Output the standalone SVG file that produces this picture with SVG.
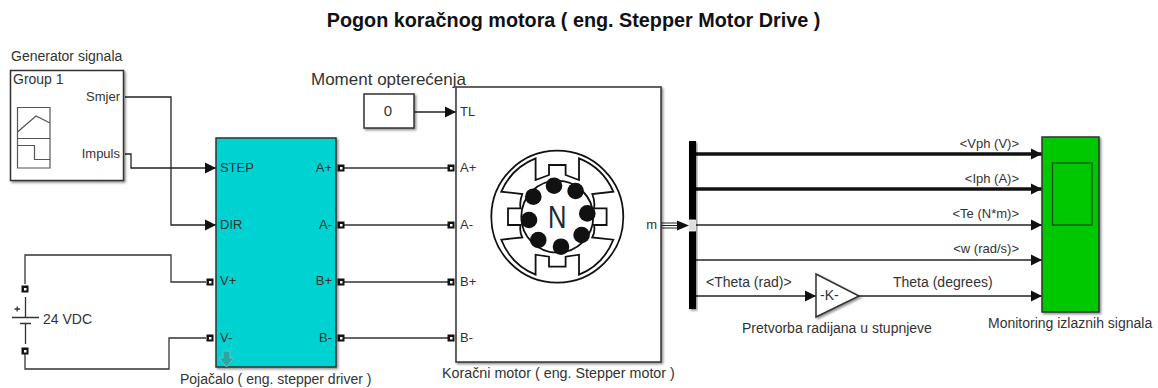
<svg xmlns="http://www.w3.org/2000/svg" width="1158" height="388" viewBox="0 0 1158 388">
<style>
text{font-family:"Liberation Sans",Arial,sans-serif;font-size:14px;fill:#333}
.s{font-size:13px}
.b{stroke:#333;stroke-width:1.5;filter:url(#sh)}
.w{fill:none;stroke:#333;stroke-width:1.3}
.a{fill:none;stroke:#222;stroke-width:1.3;marker-end:url(#arr)}
.t{fill:none;stroke:#111;stroke-width:3.5;marker-end:url(#arrT)}
.g{fill:none;stroke:#555;stroke-width:1.2}
.m{fill:none;stroke:#111;stroke-width:1.8}
.e{text-anchor:end}
.c{text-anchor:middle}
</style>
<defs>
<filter id="sh" x="-10%" y="-10%" width="125%" height="125%"><feDropShadow dx="1.5" dy="1.5" stdDeviation="1.2" flood-color="#000" flood-opacity=".45"/></filter>
<marker id="arr" markerUnits="userSpaceOnUse" markerWidth="13" markerHeight="12" refX="11" refY="6" orient="auto"><path d="M0 .5L11 6L0 11.500z" fill="#111"/></marker>
<marker id="arrT" markerUnits="userSpaceOnUse" markerWidth="13" markerHeight="12" refX="11" refY="6" orient="auto"><path d="M0 .5L11 6L0 11.500z" fill="#111"/></marker>
<g id="port"><rect x="-3.500" y="-3.500" width="7" height="7" fill="#111"/><rect x="-1" y="-1" width="2.500" height="2.500" fill="#fff"/></g>
</defs>
<text x="573.500" y="27" class="c" style="font-size:19.800px;font-weight:bold;fill:#111">Pogon koračnog motora ( eng. Stepper Motor Drive )</text>

<g id="connectors">
<path class="a" d="M125 97H171V225H216"/>
<path class="a" d="M125 154H131V168H216"/>
<path class="w" d="M25 284V255H171V282H206"/>
<path class="w" d="M25 351V369H169V338H206"/>
<path class="a" d="M414 112H456"/>
<path class="w" d="M343 168H448M343 225H448M343 282H448M343 338H448"/>
<path fill="none" stroke="#222" stroke-width="1" d="M661 223H677M661 225.500H677M661 228H677"/>
<path d="M689 225.500L677 220.500V230.500z" fill="#111"/>
<path class="t" d="M696 154H1042"/>
<path class="t" d="M696 189H1042"/>
<path class="a" d="M696 225H1042"/>
<path class="a" d="M696 260H1042"/>
<path class="a" d="M696 296H816"/>
<path class="a" d="M859 296H1042"/>
</g>

<g id="generator">
<text x="11" y="61">Generator signala</text>
<rect class="b" x="10.500" y="70.500" width="113" height="110" fill="#fff"/>
<text x="13" y="84">Group 1</text>
<text x="120" y="101" class="e s">Smjer</text>
<text x="120" y="158" class="e s">Impuls</text>
<path class="g" d="M17.500 107.500H50V168H17.500zM17.500 138.500H50M17.500 132L36 116L50 123M17.500 145.500H34.500V159.500H50"/>
</g>

<g id="driver">
<rect class="b" x="216" y="138" width="120" height="229" fill="#00d2d2"/>
<text class="s" x="220" y="172">STEP</text><text class="s" x="220" y="229">DIR</text><text class="s" x="220" y="285">V+</text><text class="s" x="220" y="342">V-</text>
<text x="332" y="172" class="e s">A+</text><text x="332" y="229" class="e s">A-</text><text x="332" y="285" class="e s">B+</text><text x="332" y="342" class="e s">B-</text>
<path d="M223 351H230V358H234L226.500 367L219 358H223z" fill="#2ba6a6" stroke="#5cc" stroke-width="1"/>
<use href="#port" x="210" y="282"/><use href="#port" x="210" y="338"/>
<use href="#port" x="341" y="168"/><use href="#port" x="341" y="225"/><use href="#port" x="341" y="282"/><use href="#port" x="341" y="338"/>
<text x="180" y="384">Pojačalo ( eng. stepper driver )</text>
</g>

<g id="battery">
<use href="#port" x="25" y="289"/><use href="#port" x="25" y="351"/>
<path fill="none" stroke="#333" stroke-width="1.3" d="M25.500 297V317M12 317.500H39M20 323.500H31M25.500 324V344M14.500 309H20M17.200 306.500V311.500"/>
<text x="43" y="324">24 VDC</text>
</g>

<g id="constant">
<text x="311" y="85" style="font-size:17px">Moment opterećenja</text>
<rect class="b" x="364" y="94" width="50" height="34" fill="#fff"/>
<text x="388" y="116" class="c" style="font-size:15px">0</text>
</g>

<g id="motor">
<rect class="b" x="456" y="87" width="205" height="275" fill="#fff"/>
<text class="s" x="460" y="116">TL</text><text class="s" x="460" y="172">A+</text><text class="s" x="460" y="229">A-</text><text class="s" x="460" y="286">B+</text><text class="s" x="460" y="342">B-</text>
<text x="657" y="229" class="e s">m</text>
<use href="#port" x="451" y="168"/><use href="#port" x="451" y="225"/><use href="#port" x="451" y="282"/><use href="#port" x="451" y="338"/>
<g transform="translate(557.300 216.700)">
<circle class="m" r="66"/>
<path class="m" d="M-21.700-58.300V-36.700L-8.300-41.700V-51.700H8.300V-41.700L21.700-36.700V-58.300A62 62 0 0 1 56-25L35-22.700Q38-15 36.700-8.300H49.300V8.300H36.700Q38 15 35 20.700L56 23A62 62 0 0 1 21.700 58V38L8.300 40V50H-8.300V40L-21.700 38V58A62 62 0 0 1-56 23L-35 20.700Q-38 15-36.700 8.300H-49.300V-8.300H-36.700Q-38-15-35-22.700L-56-25A62 62 0 0 1-21.700-58.300z"/>
<circle class="m" r="36"/>
<g fill="#111"><circle cx="-24" cy="-20" r="8.300"/><circle cx="-3.300" cy="-31" r="8.300"/><circle cx="18.300" cy="-25.700" r="8.300"/><circle cx="30" cy="-3.300" r="8.300"/><circle cx="24.300" cy="18.300" r="8.300"/><circle cx="3.700" cy="30" r="8.300"/><circle cx="-19" cy="23.300" r="8.300"/><circle cx="-28.300" cy="3.300" r="8.300"/></g>
<text x="0" y="11.500" class="c" transform="scale(.8 1)" style="font-size:32px;fill:#1a2a3a">N</text>
</g>
<text x="442" y="378" style="font-size:14.300px">Koračni motor ( eng. Stepper motor )</text>
</g>

<g id="demux">
<rect x="689" y="141" width="7" height="168" fill="#000" filter="url(#sh)"/>
<rect x="689.500" y="220" width="6" height="11" fill="#ddd" stroke="#fff" stroke-width=".8"/>
<text x="1019" y="148" class="e s">&lt;Vph (V)&gt;</text>
<text x="1019" y="183" class="e s">&lt;Iph (A)&gt;</text>
<text x="1019" y="218" class="e s">&lt;Te (N*m)&gt;</text>
<text x="1019" y="253" class="e s">&lt;w (rad/s)&gt;</text>
<text x="706" y="287">&lt;Theta (rad)&gt;</text>
<text x="893" y="287">Theta (degrees)</text>
</g>

<g id="gain">
<path class="b" d="M816 274L859 296L816 317z" fill="#fff"/>
<text x="820" y="300">-K-</text>
<text x="742" y="333">Pretvorba radijana u stupnjeve</text>
</g>

<g id="scope">
<rect class="b" x="1042" y="137" width="57" height="175" fill="#00c800"/>
<rect x="1052.500" y="163" width="39.500" height="62" fill="none" stroke="#1a4a1a" stroke-width="1.200"/>
<text x="988" y="328">Monitoring izlaznih signala</text>
</g>
</svg>
